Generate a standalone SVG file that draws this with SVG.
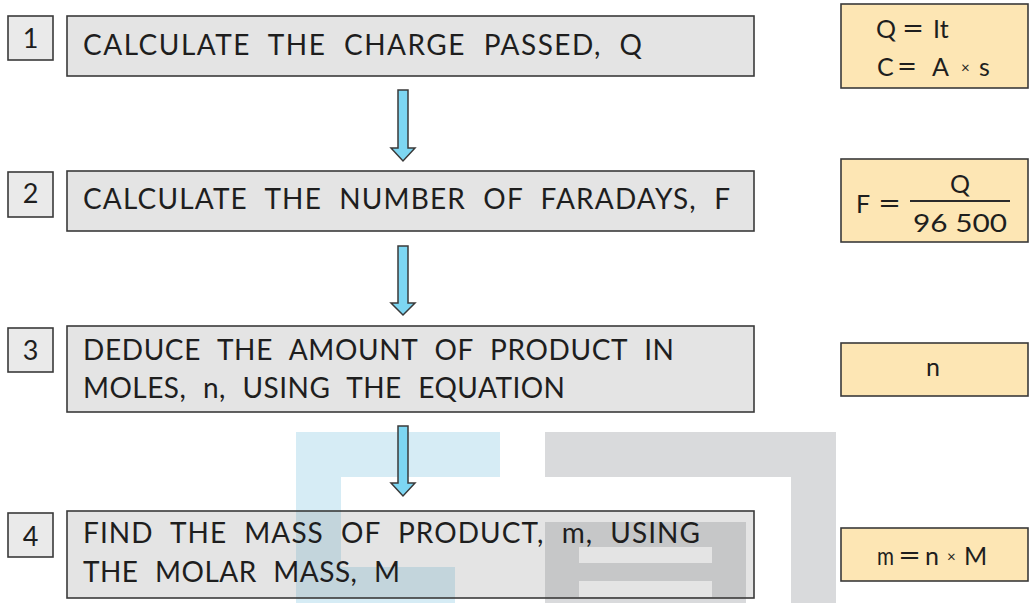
<svg xmlns="http://www.w3.org/2000/svg" width="1030" height="603" viewBox="0 0 1030 603">
<style>
.bg{fill:#ffffff}
.wm-blue{fill:#76c0de;fill-opacity:0.3}
.wm-grey{fill:#80848c;fill-opacity:0.3}
.step{fill:#7e7e7e;fill-opacity:0.21;stroke:#3a3a3a;stroke-width:1.6}
.num{fill:#8a8a8a;fill-opacity:0.18;stroke:#3a3a3a;stroke-width:1.6}
.formula{fill:#fde6b4;stroke:#3a3a3a;stroke-width:1.6}
.t{font-family:Lato,"Liberation Sans",sans-serif;font-size:28px;fill:#1e1e1e;letter-spacing:3px;word-spacing:9px}
.n{font-family:Lato,"Liberation Sans",sans-serif;font-size:27px;fill:#1e1e1e;text-anchor:middle}
.f{font-family:Lato,"Liberation Sans",sans-serif;font-size:25px;fill:#1e1e1e}
.eq{font-family:Lato,"Liberation Sans",sans-serif;font-size:30px;fill:#1e1e1e}
.x{font-size:15px}
.arrow{fill:#7dd6f2;stroke:#3a3a3a;stroke-width:1.5;stroke-linejoin:miter}
.frac{stroke:#2a2a2a;stroke-width:2}
</style>
<rect class="bg" x="0" y="0" width="1030" height="603"/>
<g id="watermark">
<path class="wm-blue" d="M296,432 H500 V477 H341 V567 H455 V603 H296 Z"/>
<path class="wm-grey" d="M545,432 H836 V603 H791 V477 H545 Z"/>
<path class="wm-grey" fill-rule="evenodd" d="M545,522 H746 V603 H545 Z M579,547 H712 V563 H579 Z M579,581 H712 V597 H579 Z"/>
</g>
<g id="connectors">
<path class="arrow" d="M398,90 H408 V148 H415 L403,161 L391,148 H398 Z"/>
<path class="arrow" d="M398,246 H408 V303 H415 L403,315 L391,303 H398 Z"/>
<path class="arrow" d="M398,426 H408 V483 H415 L403,496 L391,483 H398 Z"/>
</g>
<g id="step1">
<rect class="num" x="8" y="16" width="45" height="44"/>
<text class="n" x="30.5" y="48">1</text>
<rect class="step" x="67" y="16" width="687" height="60"/>
<text class="t" x="83" y="55" textLength="562" lengthAdjust="spacing">CALCULATE THE CHARGE PASSED, Q</text>
</g>
<g id="step2">
<rect class="num" x="8" y="172" width="45" height="45"/>
<text class="n" x="30.5" y="203">2</text>
<rect class="step" x="67" y="171" width="687" height="60"/>
<text class="t" x="83" y="209" textLength="650" lengthAdjust="spacing">CALCULATE THE NUMBER OF FARADAYS, F</text>
</g>
<g id="step3">
<rect class="num" x="8" y="328" width="45" height="44"/>
<text class="n" x="30.5" y="360">3</text>
<rect class="step" x="67" y="326" width="687" height="86"/>
<text class="t" x="83" y="360" textLength="594" lengthAdjust="spacing">DEDUCE THE AMOUNT OF PRODUCT IN</text>
<text class="t" x="83" y="398" textLength="485" lengthAdjust="spacing">MOLES, n, USING THE EQUATION</text>
</g>
<g id="step4">
<rect class="num" x="8" y="513" width="45" height="44"/>
<text class="n" x="30.5" y="546">4</text>
<rect class="step" x="67" y="511" width="687" height="87"/>
<text class="t" x="83" y="543" textLength="620" lengthAdjust="spacing">FIND THE MASS OF PRODUCT, m, USING</text>
<text class="t" x="83" y="582" textLength="320" lengthAdjust="spacing">THE MOLAR MASS, M</text>
</g>
<g id="formula1">
<rect class="formula" x="841" y="4" width="187" height="84"/>
<text class="f" x="876" y="38">Q</text>
<text class="eq" x="902" y="39" textLength="22" lengthAdjust="spacingAndGlyphs">=</text>
<text class="f" x="933" y="38">It</text>
<text class="f" x="877" y="76">C</text>
<text class="eq" x="897" y="77" textLength="20" lengthAdjust="spacingAndGlyphs">=</text>
<text class="f" x="932" y="76">A</text>
<text class="f x" x="961" y="73">×</text>
<text class="f" x="979" y="76">s</text>
</g>
<g id="formula2">
<rect class="formula" x="841" y="159" width="187" height="83"/>
<text class="f" x="856" y="213">F</text>
<text class="eq" x="878" y="214" textLength="23" lengthAdjust="spacingAndGlyphs">=</text>
<text class="f" x="960" y="193" text-anchor="middle">Q</text>
<line class="frac" x1="910" y1="201" x2="1010" y2="201"/>
<text class="f" x="913" y="232" textLength="94" lengthAdjust="spacingAndGlyphs">96 500</text>
</g>
<g id="formula3">
<rect class="formula" x="841" y="343" width="187" height="53"/>
<text class="f" x="933" y="376" text-anchor="middle">n</text>
</g>
<g id="formula4">
<rect class="formula" x="841" y="528" width="187" height="53"/>
<text class="f" x="877" y="565" textLength="17" lengthAdjust="spacingAndGlyphs">m</text>
<text class="eq" x="898" y="566" textLength="23" lengthAdjust="spacingAndGlyphs">=</text>
<text class="f" x="925" y="565">n</text>
<text class="f x" x="947" y="562">×</text>
<text class="f" x="964" y="565">M</text>
</g>
</svg>
